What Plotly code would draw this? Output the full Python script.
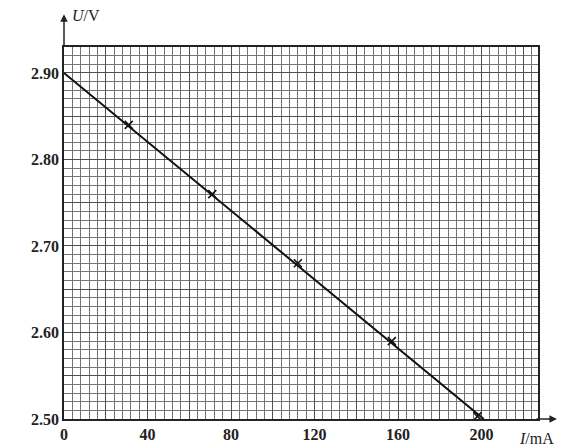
import plotly.graph_objects as go

# Data
current_mA = [31, 71, 112, 157, 198]
voltage_V = [2.84, 2.76, 2.68, 2.59, 2.503]

fit_I = [0, 201]
fit_U = [2.90, 2.50]

x_tick_vals = [0, 20, 40, 60, 80, 100, 120, 140, 160, 180, 200, 220]
x_tick_text = ["0", "", "40", "", "80", "", "120", "", "160", "", "200", ""]
y_tick_vals = [2.50, 2.55, 2.60, 2.65, 2.70, 2.75, 2.80, 2.85, 2.90]
y_tick_text = ["2.50", "", "2.60", "", "2.70", "", "2.80", "", "2.90"]

fig = go.Figure()
fig.add_trace(go.Scatter(x=fit_I, y=fit_U, mode="lines",
                         line=dict(color="#111", width=2),
                         showlegend=False, hoverinfo="skip"))
fig.add_trace(go.Scatter(x=current_mA, y=voltage_V, mode="markers",
                         marker=dict(symbol="x-thin", size=8,
                                     line=dict(color="#111", width=1.6)),
                         showlegend=False))

tick_font = dict(family="Liberation Serif", size=16, color="#222")

fig.update_layout(
    width=557, height=440,
    margin=dict(l=56, r=27, t=39, b=29),
    paper_bgcolor="white", plot_bgcolor="white",
    font=tick_font,
    xaxis=dict(range=[0, 227], tickvals=x_tick_vals,
               ticktext=["<b>%s</b>" % t if t else "" for t in x_tick_text],
               automargin=False,
               showgrid=True, gridcolor="#505050", gridwidth=1.3,
               minor=dict(dtick=4, showgrid=True, gridcolor="#767676", gridwidth=1.2),
               showline=True, linecolor="#222", linewidth=1.6, mirror=True,
               ticks="", zeroline=False, tickfont=tick_font),
    yaxis=dict(range=[2.50, 2.93], tickvals=y_tick_vals,
               ticktext=["<b>%s</b>" % t if t else "" for t in y_tick_text],
               automargin=False,
               showgrid=True, gridcolor="#505050", gridwidth=1.3,
               minor=dict(dtick=0.01, showgrid=True, gridcolor="#767676", gridwidth=1.2),
               showline=True, linecolor="#222", linewidth=1.6, mirror=True,
               ticks="", zeroline=False, tickfont=tick_font),
)

# axis arrows
fig.add_annotation(xref="x", yref="paper", x=0, y=1.088, ax=0, ay=34,
                   showarrow=True, arrowhead=2, arrowsize=1, arrowwidth=1.5,
                   arrowcolor="#222", text="")
fig.add_annotation(xref="paper", yref="y", x=1.04, y=2.50, ax=-22, ay=0,
                   showarrow=True, arrowhead=2, arrowsize=1, arrowwidth=1.5,
                   arrowcolor="#222", text="")
fig.add_annotation(xref="paper", yref="paper", x=0.012, y=1.085, xanchor="left",
                   yanchor="middle", showarrow=False,
                   text="<i>U</i>/V", font=dict(family="Liberation Serif", size=16, color="#222"))
fig.add_annotation(xref="paper", yref="paper", x=1.038, y=-0.052, xanchor="right",
                   yanchor="middle", showarrow=False,
                   text="<i>I</i>/mA", font=dict(family="Liberation Serif", size=16, color="#222"))

fig.write_html("out.html")
